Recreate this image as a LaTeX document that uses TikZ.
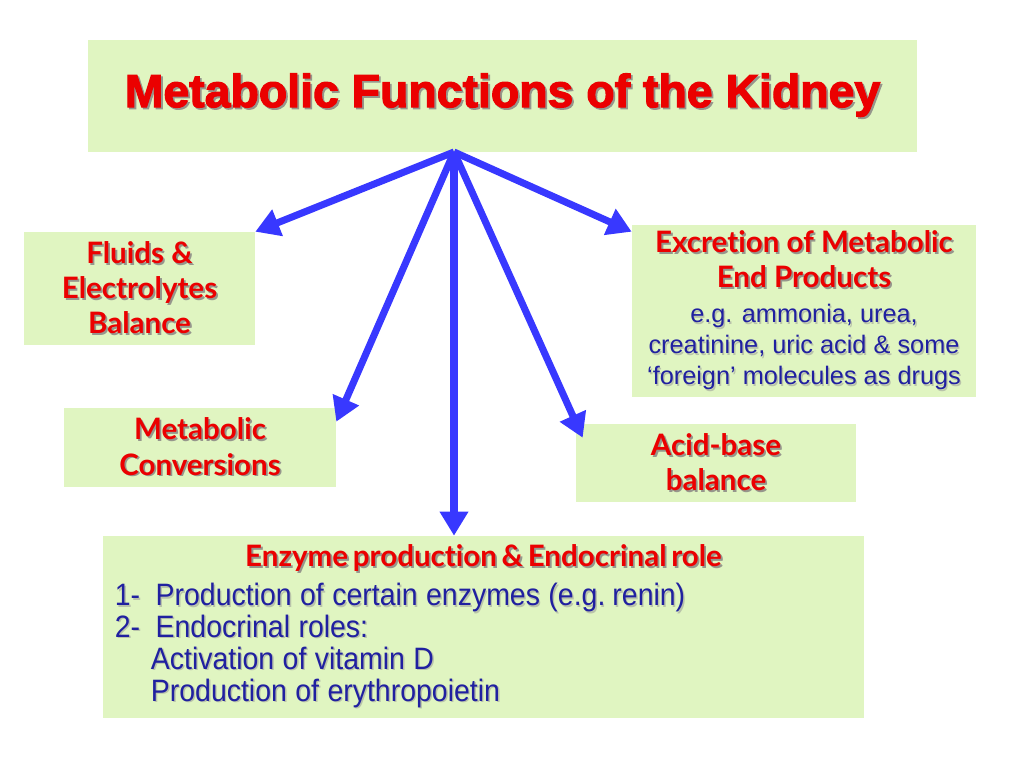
\documentclass[tikz,border=0pt]{standalone}
\usepackage{fontspec}
\usetikzlibrary{arrows.meta,calc}
\setmainfont{Liberation Sans}
\newfontfamily\titlefont{Liberation Sans Bold}[FakeBold=2.5]
\newfontfamily\headfont{Lato}[Ligatures={NoCommon}]
\newfontfamily\narrowfont{Liberation Sans}[FakeStretch=0.92]
\definecolor{boxgreen}{RGB}{224,245,193}
\definecolor{spokeblue}{RGB}{56,56,255}
\definecolor{headred}{RGB}{235,0,0}
\definecolor{textblue}{RGB}{32,32,160}
\definecolor{shadowgray}{RGB}{150,150,140}
\definecolor{lightshadow}{RGB}{185,195,170}
\newcommand\shad[1]{\leavevmode\rlap{\kern1.3pt\raisebox{-1.3pt}{\textcolor{shadowgray}{#1}}}#1}
\newcommand\lshad[1]{\leavevmode\rlap{\kern1pt\raisebox{-1pt}{\textcolor{lightshadow}{#1}}}#1}
\newcommand\bodyline[1]{{\rmfamily\mdseries\fontsize{18}{21.3}\selectfont\color{textblue}\lshad{#1}}}
\tikzset{
  box/.style={fill=boxgreen, inner sep=0pt, align=center},
  head/.style={font=\headfont\bfseries\fontsize{21}{25}\selectfont, text=headred},
  spoke/.style={line width=5pt, draw=spokeblue, -{Triangle[length=0.6cm,width=0.68cm]}}
}
\begin{document}
\begin{tikzpicture}[x=0.025cm, y=-0.025cm]
  \useasboundingbox (0,0) rectangle (1024,768);

  % boxes
  \node[box, minimum width=20.725cm, minimum height=2.8cm, text=headred,
        font=\titlefont\fontsize{33}{38}\selectfont] (title) at (502.5,96)
        {\raisebox{-3pt}{\shad{Metabolic Functions of the Kidney}}};
  \node[box, head, minimum width=5.775cm, minimum height=2.825cm] (fluids) at (139.5,288.5)
        {\shad{Fluids \&}\\ \shad{Electrolytes}\\ \shad{Balance}};
  \node[box, head, minimum width=8.6cm, minimum height=4.3cm] (excr) at (804,311)
        {\shad{Excretion of Metabolic}\\ \shad{End Products}\\[0pt]
         \bodyline{e.g. ammonia, urea,}\\[-3pt]
         \bodyline{creatinine, uric acid \& some}\\[-3pt]
         \bodyline{‘foreign’ molecules as drugs}};
  \node[box, head, minimum width=6.8cm, minimum height=1.975cm] (metab) at (200,447.5)
        {\shad{Metabolic}\\ \shad{Conversions}};
  \node[box, head, minimum width=7cm, minimum height=1.95cm] (acid) at (716,463)
        {\shad{Acid-base}\\ \shad{balance}};
  \node[box, minimum width=19.025cm, minimum height=4.55cm, inner xsep=0.3cm,
        text width=18.425cm, align=left] (enz) at (483.5,627)
        {{\centering\headfont\bfseries\fontsize{21}{25}\selectfont\color{headred}
          \shad{Enzyme production \& Endocrinal role}\par}\vspace{5pt}
         {\narrowfont\fontsize{22}{22.7}\selectfont\color{textblue}\spaceskip=6pt plus 2pt
          \lshad{1-\enspace Production of certain enzymes (e.g. renin)}\\
          \lshad{2-\enspace Endocrinal roles:}\\
          \hspace*{0.9cm}\lshad{Activation of vitamin D}\\
          \hspace*{0.9cm}\lshad{Production of erythropoietin}\par}};

  % spokes
  \coordinate (hub) at (454,152);
  \draw[spoke] (hub) -- (fluids.north east);
  \draw[spoke] (hub) -- ($(metab.north east)+(0,14)$);
  \draw[spoke] (hub) -- (hub |- enz.north);
  \draw[spoke] (hub) -- ($(acid.north west)+(7,14)$);
  \draw[spoke] (hub) -- ($(excr.north west)+(0,7)$);
\end{tikzpicture}
\end{document}
